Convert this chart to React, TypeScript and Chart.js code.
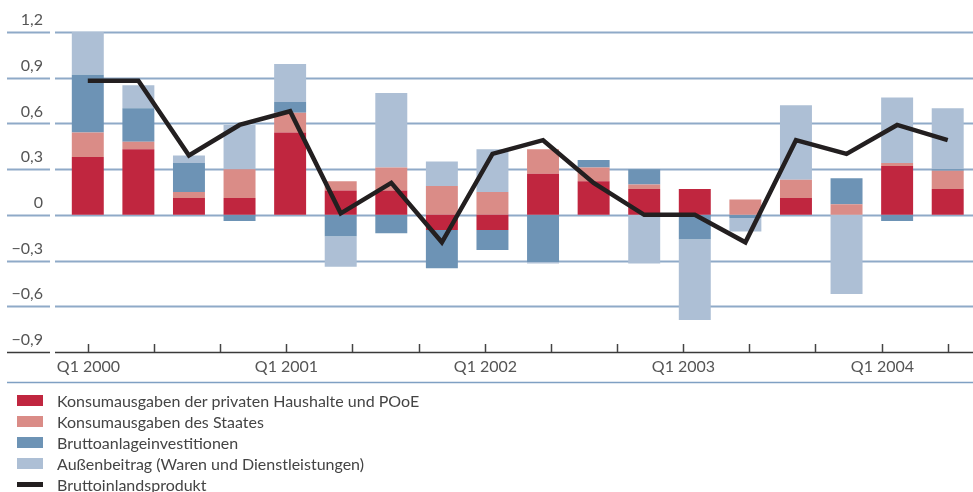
import React, { useEffect, useRef } from "react";
import { Chart, registerables } from "chart.js";

Chart.register(...registerables);

const quarters = [
  "Q1 2000", "Q2 2000", "Q3 2000", "Q4 2000",
  "Q1 2001", "Q2 2001", "Q3 2001", "Q4 2001",
  "Q1 2002", "Q2 2002", "Q3 2002", "Q4 2002",
  "Q1 2003", "Q2 2003", "Q3 2003", "Q4 2003",
  "Q1 2004", "Q2 2004",
];
const privateConsumption = [0.38, 0.43, 0.11, 0.11, 0.54, 0.16, 0.16, -0.1, -0.1, 0.27, 0.22, 0.17, 0.17, 0, 0.11, 0, 0.32, 0.17];
const stateConsumption = [0.16, 0.05, 0.04, 0.19, 0.13, 0.06, 0.15, 0.19, 0.15, 0.16, 0.09, 0.03, 0, 0.1, 0.12, 0.07, 0.02, 0.12];
const investment = [0.38, 0.22, 0.19, -0.04, 0.07, -0.14, -0.12, -0.25, -0.13, -0.31, 0.05, 0.1, -0.16, -0.02, 0, 0.17, -0.04, 0.01];
const externalBalance = [0.3, 0.15, 0.05, 0.29, 0.25, -0.2, 0.49, 0.16, 0.28, -0.01, 0, -0.32, -0.53, -0.09, 0.49, -0.52, 0.43, 0.4];
const gdp = [0.88, 0.88, 0.39, 0.59, 0.68, 0.01, 0.21, -0.18, 0.4, 0.49, 0.21, 0, 0, -0.18, 0.49, 0.4, 0.59, 0.49];

const yTicks = [-0.9, -0.6, -0.3, 0, 0.3, 0.6, 0.9, 1.2];
const xTickLabels = ["Q1 2000", "", "", "Q1 2001", "", "", "Q1 2002", "", "", "Q1 2003", "", "", "Q1 2004", ""];

const seriesNames = [
  "Konsumausgaben der privaten Haushalte und POoE",
  "Konsumausgaben des Staates",
  "Bruttoanlageinvestitionen",
  "Außenbeitrag (Waren und Dienstleistungen)",
  "Bruttoinlandsprodukt",
];
const colors = ["#C0263F", "#DA8C87", "#6D93B5", "#ADBFD5", "#231F20"];

const FONT = "Lato, 'Open Sans', sans-serif";

function fmtY(v: number): string {
  if (Math.abs(v) < 1e-9) return "0";
  return (v < 0 ? "\u2212" : "") + Math.abs(v).toFixed(1).replace(".", ",");
}

const gridPlugin = {
  id: "customGrid",
  beforeDatasetsDraw(chart: any) {
    const ctx = chart.ctx;
    const y = chart.scales.y;
    const x = chart.scales.x;
    const right = chart.width;
    ctx.save();
    yTicks.forEach((v, i) => {
      const py = Math.round(y.getPixelForValue(v)) + 0.5;
      const isAxis = i === 0;
      ctx.strokeStyle = isAxis ? "#3a3a3a" : "#8FAAC8";
      ctx.lineWidth = isAxis ? 1.5 : 2;
      ctx.beginPath();
      ctx.moveTo(7, py);
      ctx.lineTo(50, py);
      ctx.moveTo(55, py);
      ctx.lineTo(right, py);
      ctx.stroke();
    });
    const bottom = Math.round(y.getPixelForValue(yTicks[0]));
    const n = xTickLabels.length - 1;
    const last = quarters.length - 1;
    ctx.strokeStyle = "#444";
    ctx.lineWidth = 1.5;
    ctx.fillStyle = "#555";
    ctx.font = `16px ${FONT}`;
    ctx.textAlign = "center";
    ctx.textBaseline = "middle";
    xTickLabels.forEach((label, i) => {
      const px = Math.round(x.getPixelForValue((i * last) / n)) + 0.5;
      ctx.beginPath();
      ctx.moveTo(px, bottom - 8);
      ctx.lineTo(px, bottom);
      ctx.stroke();
      if (label) ctx.fillText(label, px, bottom + 15);
    });
    ctx.strokeStyle = "#7FA0C3";
    ctx.lineWidth = 1.5;
    ctx.beginPath();
    ctx.moveTo(7, bottom + 30.5);
    ctx.lineTo(right, bottom + 30.5);
    ctx.stroke();
    ctx.restore();
  },
};

export default function App() {
  const ref = useRef<HTMLCanvasElement | null>(null);

  useEffect(() => {
    if (!ref.current) return;
    const barSeries = [privateConsumption, stateConsumption, investment, externalBalance];
    const chart = new Chart(ref.current, {
      type: "bar",
      data: {
        labels: quarters,
        datasets: [
          ...barSeries.map((d, i) => ({
            type: "bar" as const,
            label: seriesNames[i],
            data: d,
            backgroundColor: colors[i],
            borderWidth: 0,
            stack: "a",
            order: 1,
            categoryPercentage: 1,
            barPercentage: 0.632,
          })),
          {
            type: "line" as const,
            label: seriesNames[4],
            data: gdp,
            borderColor: colors[4],
            backgroundColor: colors[4],
            borderWidth: 4.5,
            pointRadius: 0,
            tension: 0,
            stack: "line",
            order: 0,
            borderJoinStyle: "miter" as const,
          },
        ],
      },
      options: {
        responsive: false,
        animation: false,
        layout: { padding: { top: 32, left: 0, right: 0, bottom: 40 } },
        plugins: { legend: { display: false }, tooltip: { enabled: false } },
        scales: {
          x: { type: "category", stacked: true, display: false, offset: true },
          y: {
            stacked: true,
            min: -0.9,
            max: 1.2,
            grid: { display: false, drawTicks: false },
            border: { display: false },
            afterBuildTicks: (scale: any) => {
              scale.ticks = yTicks.map((v) => ({ value: v }));
            },
            afterFit: (scale: any) => {
              scale.width = 62.5;
            },
            ticks: {
              padding: 19.5,
              labelOffset: -12,
              color: "#555",
              font: { family: FONT, size: 16 },
              callback: (v: any) => fmtY(Number(v)),
            },
          },
        },
      } as any,
      plugins: [gridPlugin],
    });
    return () => chart.destroy();
  }, []);

  return (
    <div style={{ position: "absolute", left: 0, top: 0, width: 973, height: 492, overflow: "hidden", background: "#fff" }}>
      <canvas ref={ref} width={973} height={392} style={{ position: "absolute", left: 0, top: 0 }} />
      <div style={{ position: "absolute", left: 17, top: 390, fontFamily: FONT, fontSize: 16, color: "#444" }}>
        {seriesNames.map((name, i) => (
          <div key={name} style={{ height: 21, display: "flex", alignItems: "center", whiteSpace: "nowrap" }}>
            <span style={{ display: "inline-block", width: 26, height: i === 4 ? 5 : 11, background: colors[i], marginRight: 14 }} />
            <span>{name}</span>
          </div>
        ))}
      </div>
    </div>
  );
}
